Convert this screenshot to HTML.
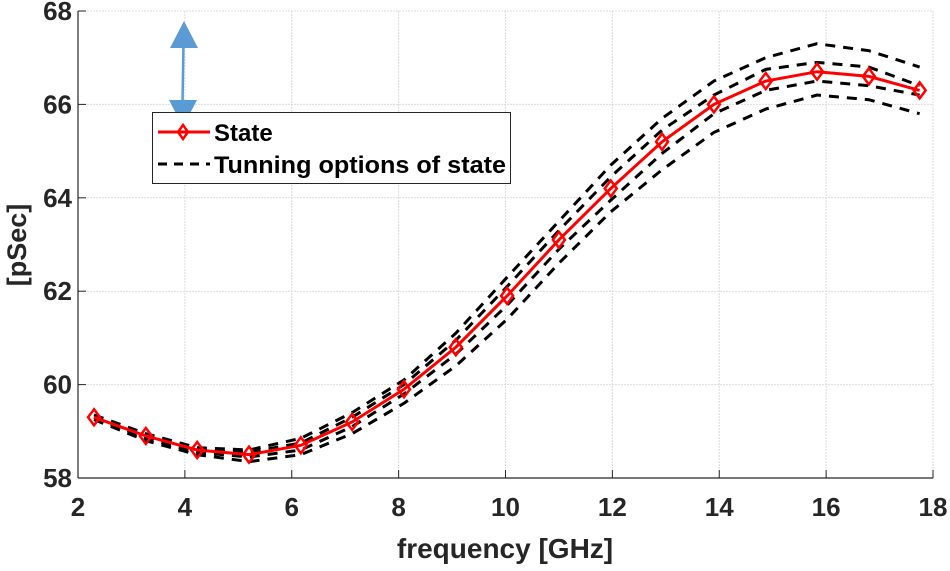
<!DOCTYPE html>
<html><head><meta charset="utf-8"><style>
html,body{margin:0;padding:0;background:#fff;}
svg text{font-family:"Liberation Sans",Arial,sans-serif;font-weight:bold;fill:#262626;}
</style></head><body>
<svg id="chart" width="950" height="566" xmlns="http://www.w3.org/2000/svg">
<g id="grid"></g>
<g id="axes"></g>
<g id="series"></g>
<text x="505" y="558" text-anchor="middle" font-size="28">frequency [GHz]</text>
<text transform="translate(26,245) rotate(-90)" text-anchor="middle" font-size="27">[pSec]</text>
<g>
<line x1="183.5" y1="42" x2="182.5" y2="104" stroke="#5b9bd5" stroke-width="2.5"/>
<polygon points="184,21 170,48 198,48" fill="#5b9bd5"/>
<polygon points="183,127 169,100 197,100" fill="#5b9bd5"/>
</g>
<g>
<rect x="152.5" y="112.5" width="358" height="71" fill="#fff" stroke="#262626" stroke-width="1"/>
<g>
<line x1="158" y1="132" x2="210" y2="132" stroke="#ff0000" stroke-width="3"/>
<polygon points="183,125 188,132 183,139 178,132" fill="none" stroke="#ff0000" stroke-width="2.5"/>
<text x="214" y="141" font-size="24" style="fill:#000">State</text>
</g>
<g>
<line x1="158" y1="164" x2="210" y2="164" stroke="#000" stroke-width="3" stroke-dasharray="9,7"/>
<text x="214" y="173" font-size="24" style="fill:#000" textLength="292" lengthAdjust="spacingAndGlyphs">Tunning options of state</text>
</g>
</g>
</svg>
<script>
const xTicks=[2,4,6,8,10,12,14,16,18];
const yTicks=[58,60,62,64,66,68];
const freq=[2.3,3.27,4.23,5.2,6.17,7.13,8.1,9.07,10.03,11,11.97,12.93,13.9,14.87,15.83,16.8,17.75];
const state=[59.3,58.9,58.6,58.5,58.7,59.2,59.9,60.8,61.9,63.1,64.2,65.2,66.0,66.5,66.7,66.6,66.3];
const tuneUp2=[59.35,58.95,58.65,58.6,58.85,59.4,60.1,61.1,62.3,63.5,64.7,65.7,66.5,67.0,67.3,67.15,66.8];
const tuneUp1=[59.3,58.9,58.6,58.55,58.75,59.3,60.0,60.95,62.1,63.3,64.45,65.45,66.2,66.75,66.9,66.8,66.4];
const tuneLo1=[59.3,58.85,58.55,58.45,58.6,59.1,59.8,60.65,61.7,62.9,63.95,64.95,65.8,66.3,66.5,66.4,66.2];
const tuneLo2=[59.25,58.8,58.5,58.35,58.5,58.95,59.6,60.4,61.4,62.6,63.7,64.6,65.4,65.9,66.2,66.1,65.8];
const L=78,R=933,T=11,B=478;
const X=v=>L+(v-2)/16*(R-L);
const Y=v=>B-(v-58)/10*(B-T);
const NS="http://www.w3.org/2000/svg";
function mk(t,p,a){const e=document.createElementNS(NS,t);for(const k in a)e.setAttribute(k,a[k]);p.appendChild(e);return e;}
const grid=document.getElementById('grid'),axes=document.getElementById('axes'),series=document.getElementById('series');
xTicks.forEach(t=>{
 const g=mk('line',grid,{x1:X(t),x2:X(t),y1:T,y2:B,stroke:'#dcdcdc','stroke-width':1,'stroke-dasharray':'2,1'});
 
 
 const tk=mk('line',axes,{x1:X(t),x2:X(t),y1:B,y2:B-8,stroke:'#262626','stroke-width':1});
 
 
 const lb=mk('text',axes,{x:X(t),y:B+38,'text-anchor':'middle','font-size':'26'});
 lb.textContent=t;
 
 
});
yTicks.forEach(t=>{
 const g=mk('line',grid,{x1:L,x2:R,y1:Y(t),y2:Y(t),stroke:'#dcdcdc','stroke-width':1,'stroke-dasharray':'2,1'});
 
 
 const tk=mk('line',axes,{x1:L,x2:L+8,y1:Y(t),y2:Y(t),stroke:'#262626','stroke-width':1});
 
 
 const lb=mk('text',axes,{x:L-6,y:Y(t)+9,'text-anchor':'end','font-size':'26'});
 lb.textContent=t;
 
 
});
const bx=mk('line',axes,{x1:L,x2:R,y1:B,y2:B,stroke:'#262626','stroke-width':1.2});


const by=mk('line',axes,{x1:L,x2:L,y1:T,y2:B,stroke:'#262626','stroke-width':1.2});


const pts=a=>a.map((v,i)=>X(freq[i])+','+Y(v)).join(' ');
[[tuneUp2,'tuning-line-upper-2'],[tuneUp1,'tuning-line-upper-1'],[tuneLo1,'tuning-line-lower-1'],[tuneLo2,'tuning-line-lower-2']].forEach(([a,n])=>{
 const p=mk('polyline',series,{points:pts(a),fill:'none',stroke:'#000','stroke-width':3,'stroke-dasharray':'10,8'});
 
 
});
const sl=mk('polyline',series,{points:pts(state),fill:'none',stroke:'#ff0000','stroke-width':3});


state.forEach((v,i)=>{
 const x=X(freq[i]),y=Y(v);
 const m=mk('polygon',series,{points:`${x},${y-8} ${x+6},${y} ${x},${y+8} ${x-6},${y}`,fill:'none',stroke:'#ff0000','stroke-width':2.5});
 
 
});
</script>
</body></html>
